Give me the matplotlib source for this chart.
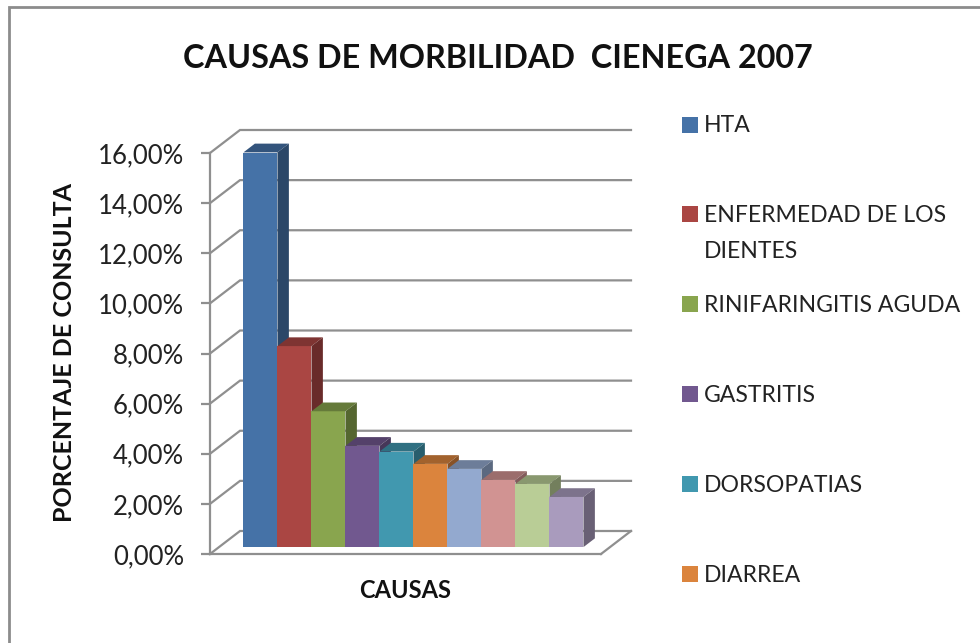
import numpy as np
import matplotlib
matplotlib.use('Agg')
import matplotlib.pyplot as plt
from matplotlib.patches import Polygon, Rectangle
from matplotlib.colors import to_rgb

values = [15.75, 8.02, 5.42, 4.04, 3.81, 3.32, 3.12, 2.68, 2.52, 2.0]
bar_colors = ['#4572a7', '#aa4643', '#89a54e', '#71588f', '#4198af',
              '#db843d', '#93a9cf', '#d19392', '#b9cd96', '#a99bbd']
legend_labels = ['HTA', 'ENFERMEDAD DE LOS\nDIENTES', 'RINIFARINGITIS AGUDA',
                 'GASTRITIS', 'DORSOPATIAS', 'DIARREA']
y_ticks = [0, 2, 4, 6, 8, 10, 12, 14, 16]
y_labels = ['0,00%', '2,00%', '4,00%', '6,00%', '8,00%', '10,00%', '12,00%', '14,00%', '16,00%']

W, H = 980, 643
plt.rcParams['font.family'] = ['Lato', 'DejaVu Sans']
grey = '#8f8f8f'
text_col = '#222222'

fig = plt.figure(figsize=(W / 100, H / 100), dpi=100)
ax = fig.add_axes([210 / W, (H - 554) / H, 391 / W, 401 / H])
xmin, xmax = -1.22, 10.28
ax.set_xlim(xmin, xmax)
ax.set_ylim(0, 16)

# depth of the fake 3d box, in data units
dx = 30 / 34
dy = 23 / 25.06
f_front = 0.3
f_back = 0.68

#back wall lines
for t in y_ticks:
    ax.plot([xmin, xmin + dx, xmax + dx], [t, t + dy, t + dy], color=grey, lw=1.6,
            clip_on=False, zorder=1, solid_joinstyle='miter')
ax.plot([xmax, xmax + dx], [0, dy], color=grey, lw=1.6, clip_on=False, zorder=1)

def shade(col, k):
    return tuple(c * k for c in to_rgb(col))

for i, v in enumerate(values):
    left = i - 0.5 + f_front * dx
    right = left + 1
    base = f_front * dy
    top = v + base
    ddx = (f_back - f_front) * dx
    ddy = (f_back - f_front) * dy
    ax.bar(left, v, width=1, bottom=base, align='edge', color=bar_colors[i], zorder=3 + i)
    ax.add_patch(Polygon([(left, top), (right, top), (right + ddx, top + ddy), (left + ddx, top + ddy)],
                         closed=True, fc=shade(bar_colors[i], 0.74), ec='none', zorder=3 + i, clip_on=False))
    ax.add_patch(Polygon([(right, base), (right + ddx, base + ddy), (right + ddx, top + ddy), (right, top)],
                         closed=True, fc=shade(bar_colors[i], 0.62), ec='none', zorder=3 + i, clip_on=False))

for s in ['top', 'right']:
    ax.spines[s].set_visible(False)
for s in ['left', 'bottom']:
    ax.spines[s].set_color(grey)
    ax.spines[s].set_linewidth(1.6)
ax.set_xticks([])
ax.set_yticks(y_ticks)
ax.set_yticklabels(y_labels, fontsize=18.5, color=text_col)
ax.tick_params(axis='y', length=6.5, width=1.6, color=grey, pad=12)
ax.patch.set_alpha(0)

fig.text(498 / W, 1 - 58 / H, 'CAUSAS DE MORBILIDAD  CIENEGA 2007', fontsize=23.3, fontweight='bold',
         color='#111111', ha='center', va='center')
fig.text(65 / W, 1 - 353 / H, 'PORCENTAJE DE CONSULTA', fontsize=18, fontweight='bold', color='#111111',
         rotation=90, ha='center', va='center')
fig.text(405 / W, 1 - 590 / H, 'CAUSAS', fontsize=17, fontweight='bold', color='#111111',
         ha='center', va='center')

#legend placed by hand, the entries are spaced unevenly
leg_y = [125, 214, 304, 394, 484, 574]
for lab, y, col in zip(legend_labels, leg_y, bar_colors):
    fig.add_artist(Rectangle((682 / W, 1 - (y + 8) / H), 16 / W, 16 / H, transform=fig.transFigure,
                             fc=col, ec='none'))
    fig.text(704 / W, 1 - (y + 1) / H, lab.split('\n')[0], fontsize=16.6, color=text_col, ha='left', va='center')
    if '\n' in lab:
        fig.text(704 / W, 1 - (y + 37) / H, lab.split('\n')[1], fontsize=16.6, color=text_col,
                 ha='left', va='center')

# outer chart border, runs off the right and bottom of the picture
fig.add_artist(Rectangle((9 / W, -0.05), 1.1, 1 - 7 / H + 0.05, transform=fig.transFigure,
                         fc='none', ec='#8c8c8c', lw=2))

fig.savefig('out.png', dpi=100, facecolor='white')
plt.close()
